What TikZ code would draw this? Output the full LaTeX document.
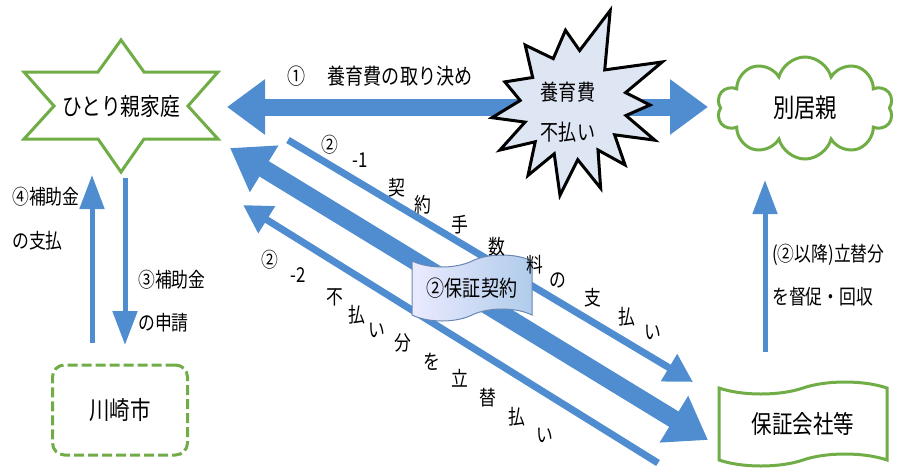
\documentclass[tikz,border=0pt]{standalone}
\usepackage{fontspec}
\setmainfont[FakeStretch=0.82]{Noto Sans CJK JP}
\usetikzlibrary{arrows.meta, shapes.symbols}
\definecolor{dBlue}{RGB}{79,141,208}
\definecolor{dGreen}{RGB}{112,173,71}
\definecolor{dBurstFill}{RGB}{222,229,243}
\definecolor{dBannerEdge}{RGB}{105,135,180}
\tikzstyle{dText} = [inner sep=0pt, font=\fontsize{20.5pt}{24pt}\selectfont]
\tikzstyle{dHex} = [draw=dGreen, line width=3pt, fill=white]
\tikzstyle{dCloud} = [cloud, cloud puffs=10, cloud ignores aspect, minimum width=176pt, minimum height=102pt, draw=dGreen, line width=3pt, fill=white, font=\fontsize{26pt}{30pt}\selectfont]
\tikzstyle{dCity} = [rectangle, rounded corners=12pt, minimum width=135pt, minimum height=90pt, draw=dGreen, line width=3pt, dash pattern=on 10pt off 4pt, font=\fontsize{25pt}{28pt}\selectfont]
\tikzstyle{dTape} = [tape, tape bend height=12pt, minimum width=168pt, minimum height=84pt, draw=dGreen, line width=3pt, fill=white, font=\fontsize{25pt}{28pt}\selectfont]
\tikzstyle{dBanner} = [tape, tape bend height=12pt, minimum width=120pt, minimum height=66pt, draw=dBannerEdge, line width=1pt, left color=blue!8, right color=dBlue!45, font=\fontsize{22pt}{26pt}\selectfont]
\tikzstyle{dBurst} = [draw=black, line width=3pt, fill=dBurstFill]
\tikzstyle{dWide} = [draw=dBlue, line width=17pt, {Triangle[length=38pt,width=53pt]}-{Triangle[length=38pt,width=53pt]}]
\tikzstyle{dDeal} = [draw=dBlue, line width=18pt, {Triangle[length=40pt,width=52pt]}-{Triangle[length=40pt,width=52pt]}]
\tikzstyle{dThin} = [draw=dBlue, line width=7pt, -{Triangle[length=28pt,width=30pt]}]
\tikzstyle{dSlim} = [draw=dBlue, line width=5pt, -{Triangle[length=34pt,width=24pt]}]

\begin{document}
\begin{tikzpicture}[x=1pt, y=-1pt]
    \useasboundingbox (0,0) rectangle (901,469);

    % end points of the arrows
    \coordinate (familyIn) at (227,107);
    \coordinate (parentIn) at (708,107);
    \coordinate (feeStart) at (288,140);
    \coordinate (feeEnd) at (693,382);
    \coordinate (dealL) at (230,148);
    \coordinate (dealR) at (708,440);
    \coordinate (payStart) at (658,463);
    \coordinate (payEnd) at (243,205);
    \coordinate (grantUpS) at (92,343);
    \coordinate (grantUpE) at (92,175);
    \coordinate (grantDnS) at (125,178);
    \coordinate (grantDnE) at (125,345);
    \coordinate (collectS) at (765,352);
    \coordinate (collectE) at (765,180);

    \draw [dWide] (familyIn) -- (parentIn);
    \draw [dThin] (feeStart) -- (feeEnd);
    \draw [dDeal] (dealL) -- (dealR);
    \draw [dThin] (payStart) -- (payEnd);
    \draw [dSlim] (grantUpS) -- (grantUpE);
    \draw [dSlim] (grantDnS) -- (grantDnE);
    \draw [dSlim] (collectS) -- (collectE);

    % boxes
    \draw [dHex] (121,40) -- (144,72) -- (218,72) -- (188,106) -- (218,139) -- (144,139) -- (121,172) -- (98,139) -- (24,139) -- (54,106) -- (24,72) -- (98,72) -- cycle;
    \node (family) [dText, font=\fontsize{24pt}{28pt}\selectfont] at (121,106) {ひとり親家庭};
    \node (parent) [dCloud] at (805,108) {別居親};
    \node (city) [dCity] at (120,410) {川崎市};
    \node (guarantor) [dTape] at (803,424) {保証会社等};
    \node (deal) [dBanner] at (472,288) {②保証契約};

    \begin{scope}[shift={(572,105)}]
        \draw [dBurst] (-68:102) -- (-47:48) -- (-25.5:100) -- (-13:55) -- (0:78) -- (11:55) -- (23:90) -- (35:52) -- (48.5:80) -- (60:52) -- (71:88) -- (84:55) -- (97.6:91) -- (110:52) -- (122:83) -- (135:52) -- (148:85) -- (160:50) -- (171:81) -- (185:52) -- (-161:71) -- (-145:48) -- (-128:76) -- (-112:50) -- (-95:75) -- (-82:55) -- cycle;
    \end{scope}
    \node (burst) [dText, font=\fontsize{22pt}{40pt}\selectfont, align=center] at (568,112) {養育費\\不払い};

    % labels
    \node (lblDecide) [dText, font=\fontsize{22pt}{26pt}\selectfont] at (380,76) {①\hspace{22pt}養育費の取り決め};
    \node (lblGrantA) [dText, anchor=west] at (12,197) {④補助金};
    \node (lblGrantB) [dText, anchor=west] at (12,241) {の支払};
    \node (lblApplyA) [dText, anchor=west] at (138,280) {③補助金};
    \node (lblApplyB) [dText, anchor=west] at (138,323) {の申請};
    \node (lblCollectA) [dText, anchor=west] at (772,255) {(②以降)立替分};
    \node (lblCollectB) [dText, anchor=west] at (772,297) {を督促・回収};

    \node (fNum) [dText] at (330,145) {②};
    \node (fSub) [dText] at (360,160) {-1};
    \node (f1) [dText] at (397,188) {契};
    \node (f2) [dText] at (423,205) {約};
    \node (f3) [dText] at (460,225) {手};
    \node (f4) [dText] at (497,247) {数};
    \node (f5) [dText] at (535,265) {料};
    \node (f6) [dText] at (558,280) {の};
    \node (f7) [dText] at (593,298) {支};
    \node (f8) [dText] at (627,317) {払};
    \node (f9) [dText] at (653,332) {い};

    \node (pNum) [dText] at (270,260) {②};
    \node (pSub) [dText] at (298,275) {-2};
    \node (p1) [dText] at (335,297) {不};
    \node (p2) [dText] at (357,315) {払};
    \node (p3) [dText] at (377,330) {い};
    \node (p4) [dText] at (403,343) {分};
    \node (p5) [dText] at (432,362) {を};
    \node (p6) [dText] at (460,378) {立};
    \node (p7) [dText] at (488,398) {替};
    \node (p8) [dText] at (517,417) {払};
    \node (p9) [dText] at (545,435) {い};
\end{tikzpicture}
\end{document}
